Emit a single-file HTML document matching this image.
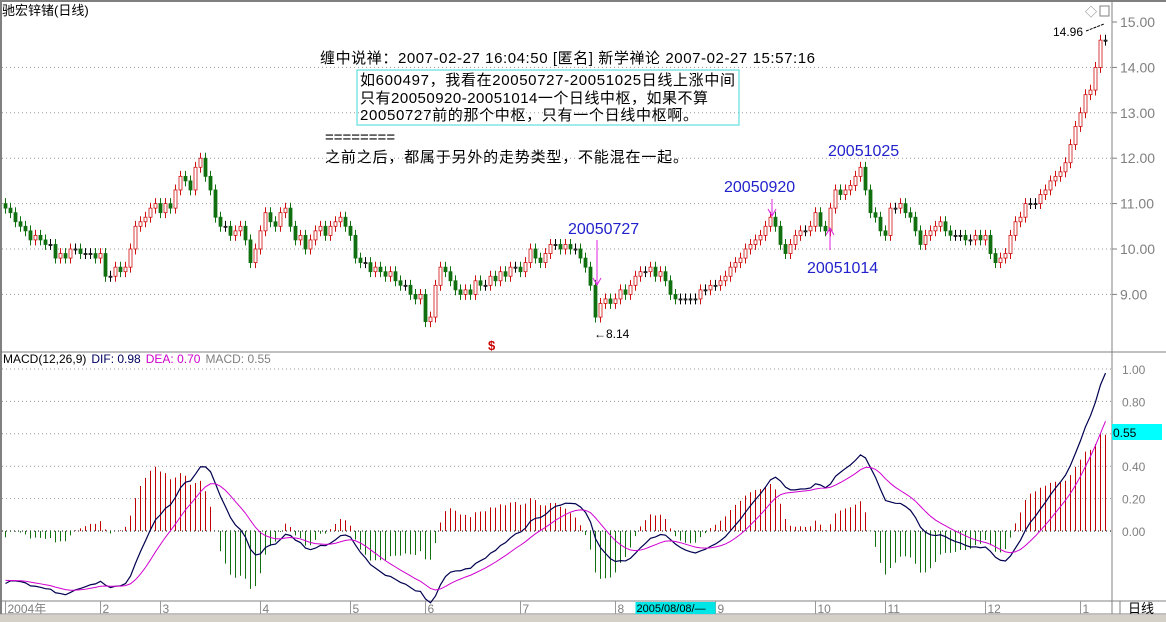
<!DOCTYPE html>
<html><head><meta charset="utf-8"><style>
body{margin:0;background:#fff;width:1166px;height:622px;overflow:hidden;font-family:"Liberation Sans","Noto Sans CJK SC",sans-serif}
svg{display:block}
</style></head><body>
<svg id="c" width="1166" height="622" font-family="Liberation Sans, Noto Sans CJK SC, sans-serif">
<rect x="0" y="0" width="1166" height="622" fill="#fff"/>
<line x1="0" y1="1" x2="1166" y2="1" stroke="#808080" stroke-width="2"/>
<line x1="1" y1="0" x2="1" y2="614" stroke="#808080" stroke-width="2"/>
<line x1="1112" y1="0" x2="1112" y2="614" stroke="#808080"/>
<line x1="0" y1="352" x2="1166" y2="352" stroke="#808080"/>
<line x1="0" y1="601" x2="1166" y2="601" stroke="#808080"/>
<line x1="0" y1="614" x2="1166" y2="614" stroke="#808080"/>
<rect x="0" y="615" width="1166" height="7" fill="#d4d0c8"/>
<line x1="1120" y1="601" x2="1120" y2="614" stroke="#808080"/>
<text x="1128" y="613" font-size="13" fill="#000">日线</text>
<g id="grid"></g>
<g id="candles"></g>
<g id="macd"></g>
<g id="axes"></g>
<text x="2" y="15" font-size="13" fill="#000">驰宏锌锗(日线)</text>
<text x="320" y="63" font-size="15" fill="#000" textLength="495">缠中说禅：2007-02-27 16:04:50 [匿名] 新学禅论  2007-02-27 15:57:16</text>
<rect x="357" y="70" width="382" height="55" fill="none" stroke="#40d8d8"/>
<text font-size="15" fill="#000"><tspan x="360" y="85" textLength="375">如600497，我看在20050727-20051025日线上涨中间</tspan><tspan x="360" y="103" textLength="348">只有20050920-20051014一个日线中枢，如果不算</tspan><tspan x="360" y="120" textLength="338">20050727前的那个中枢，只有一个日线中枢啊。</tspan></text>
<text x="325" y="142" font-size="15" fill="#000">========</text>
<text x="325" y="162" font-size="15" fill="#000" textLength="363">之前之后，都属于另外的走势类型，不能混在一起。</text>
<text x="828" y="156" font-size="16" fill="#2222cc">20051025</text>
<text x="724" y="192" font-size="16" fill="#2222cc">20050920</text>
<text x="568" y="234" font-size="16" fill="#2222cc">20050727</text>
<text x="807" y="273" font-size="16" fill="#2222cc">20051014</text>
<g stroke="#e020e0" fill="none">
<line x1="772" y1="199" x2="772" y2="215"/><path d="M768 209 L772 216 L776 209"/>
<line x1="597" y1="240" x2="597" y2="285"/><path d="M593 278 L597 285 L601 278"/>
<line x1="830" y1="250" x2="830" y2="228"/><path d="M826 235 L830 228 L834 235"/>
</g>
<text x="594" y="338" font-size="12" fill="#000">←8.14</text>
<text x="1053" y="36" font-size="12" fill="#000">14.96</text>
<path d="M1086 31 L1104 24" stroke="#000" stroke-dasharray="3,1" fill="none"/>
<text x="1085" y="16" font-size="12" fill="#808080">◇</text>
<rect x="1100" y="6" width="9" height="10" fill="none" stroke="#808080"/>
<text x="488" y="350" font-size="13" fill="#cc0000" font-weight="bold">$</text>
<text x="3" y="363" font-size="12"><tspan fill="#000">MACD(12,26,9)</tspan><tspan fill="#000060" dx="5">DIF: 0.98</tspan><tspan fill="#cc00cc" dx="5">DEA: 0.70</tspan><tspan fill="#808080" dx="5">MACD: 0.55</tspan></text>
</svg>
<script>
const closes=[10.9,10.8,10.6,10.5,10.4,10.2,10.3,10.2,10.1,10.1,9.8,9.9,9.8,10.0,10.0,9.9,9.9,9.9,9.8,9.9,
9.4,9.4,9.6,9.5,9.6,10.0,10.5,10.6,10.7,10.9,11.0,10.8,11.0,10.9,11.3,11.6,11.5,11.3,11.8,12.0,
11.6,11.3,10.7,10.5,10.5,10.3,10.4,10.5,10.2,9.7,10.0,10.4,10.8,10.6,10.5,10.8,10.9,10.5,10.2,10.3,
10.0,10.2,10.4,10.5,10.3,10.5,10.6,10.7,10.5,10.3,9.8,9.7,9.7,9.5,9.6,9.5,9.4,9.5,9.3,9.2,
9.2,9.0,8.9,9.0,8.4,8.5,9.2,9.6,9.5,9.3,9.1,9.0,9.1,9.0,9.3,9.2,9.2,9.4,9.3,9.5,
9.4,9.6,9.6,9.5,9.7,10.0,9.8,9.7,9.9,10.1,10.1,10.0,10.1,10.0,10.0,9.8,9.6,9.2,8.5,8.8,
8.9,8.8,8.9,9.1,9.0,9.2,9.4,9.5,9.5,9.6,9.4,9.5,9.3,9.0,8.9,8.9,8.9,8.9,8.9,9.1,
9.1,9.2,9.2,9.3,9.4,9.6,9.7,9.8,10.0,10.1,10.2,10.3,10.5,10.7,10.5,10.1,9.9,10.1,10.3,10.4,
10.4,10.5,10.8,10.5,10.4,10.9,11.3,11.2,11.3,11.4,11.6,11.8,11.3,10.8,10.7,10.4,10.3,10.9,10.9,11.0,
10.8,10.7,10.4,10.1,10.3,10.4,10.5,10.6,10.4,10.3,10.3,10.3,10.2,10.2,10.3,10.2,10.3,9.9,9.7,9.8,
9.9,10.3,10.6,10.7,11.0,11.0,11.0,11.2,11.3,11.5,11.6,11.7,11.9,12.3,12.7,13.0,13.4,13.5,14.0,14.6,14.6];
const priceTicks=[15,14,13,12,11,10,9];
const macdTicks=[1.0,0.8,0.6,0.4,0.2,0.0];
const monthLabels=["2004年","2","3","4","5","6","7","8","9","10","11","12","1"];
const monthBarIdx=[0,19,31,51,69,84,103,122,142,162,176,196,215];
const NS="http://www.w3.org/2000/svg";
const X0=5,X1=1105;
const step=(X1-X0)/(closes.length-1);
const xs=i=>Math.round(X0+i*step)+0.5;
const yp=p=>22+(15-p)*45.4;
const ym=v=>531-v*162;
function mk(tag,attrs,parent){const e=document.createElementNS(NS,tag);for(const k in attrs)e.setAttribute(k,attrs[k]);document.getElementById(parent).appendChild(e);return e;}
priceTicks.forEach(t=>{if(t<15){const l=mk('line',{x1:2,x2:1112,y1:yp(t),y2:yp(t),stroke:'#999','stroke-dasharray':'1,3'},'grid');

}
const tx=mk('text',{x:1120,y:yp(t)+5,'font-size':14,fill:'#808080'},'axes');tx.textContent=t.toFixed(2);


mk('line',{x1:1112,x2:1117,y1:yp(t),y2:yp(t),stroke:'#808080'},'axes');});
macdTicks.forEach(t=>{const l=mk('line',{x1:2,x2:1112,y1:ym(t),y2:ym(t),stroke:t===0?'#000':'#999','stroke-dasharray':'1,3'},'grid');


if(Math.abs(t-0.6)>0.01){const tx=mk('text',{x:1122,y:ym(t)+5,'font-size':12,fill:'#808080'},'axes');tx.textContent=t.toFixed(2);

}});
const bx=mk('rect',{x:1112,y:424,width:50,height:16,fill:'#00ffff'},'axes');


const bt=mk('text',{x:1113,y:437,'font-size':12,fill:'#000'},'axes');bt.textContent='0.55';
monthLabels.forEach((m,k)=>{const x=xs(monthBarIdx[k]);
mk('line',{x1:x,x2:x,y1:601,y2:614,stroke:'#999'},'axes');
const t=mk('text',{x:x+2,y:613,'font-size':12,fill:'#808080'},'axes');t.textContent=m;

});
const hl=mk('rect',{x:xs(122)+20,y:602,width:80,height:12,fill:'#00e5e5'},'axes');


const ht=mk('text',{x:xs(122)+21,y:612,'font-size':11,fill:'#000'},'axes');ht.textContent='2005/08/08/—';
closes.forEach((c,i)=>{const o=i?closes[i-1]:c+0.1;const up=c>=o;const col=c===o?'#000':(up?'#d01010':'#107010');
const x=xs(i);const hi=Math.max(o,c)+0.12,lo=Math.min(o,c)-0.12;
const g=mk('g',{},'candles');


const w=document.createElementNS(NS,'line');w.setAttribute('x1',x);w.setAttribute('x2',x);w.setAttribute('y1',yp(hi));w.setAttribute('y2',yp(lo));w.setAttribute('stroke',col);g.appendChild(w);
const r=document.createElementNS(NS,'rect');const top=yp(Math.max(o,c)),h=Math.max(1,yp(Math.min(o,c))-top);
r.setAttribute('x',x-1.5);r.setAttribute('y',top);r.setAttribute('width',3);r.setAttribute('height',h);
r.setAttribute('fill',up?'#fff':col);r.setAttribute('stroke',col);r.setAttribute('stroke-width',0.8);g.appendChild(r);});
let e12=closes[0],e26=closes[0]+0.35,dea=-0.3;const dif=[],deaA=[],hist=[];
closes.forEach(c=>{e12=e12+(c-e12)*2/13;e26=e26+(c-e26)*2/27;const d=e12-e26;dea=dea+(d-dea)*2/10;dif.push(d);deaA.push(dea);hist.push(2*(d-dea));});
hist.forEach((h,i)=>{const l=mk('line',{x1:xs(i),x2:xs(i),y1:ym(0),y2:ym(h),stroke:h>=0?'#c00000':'#107010'},'macd');

});
const p1=mk('polyline',{points:dif.map((v,i)=>xs(i)+','+ym(v)).join(' '),fill:'none',stroke:'#000050','stroke-width':1.2},'macd');


const p2=mk('polyline',{points:deaA.map((v,i)=>xs(i)+','+ym(v)).join(' '),fill:'none',stroke:'#d000d0','stroke-width':1},'macd');


</script>
</body></html>
